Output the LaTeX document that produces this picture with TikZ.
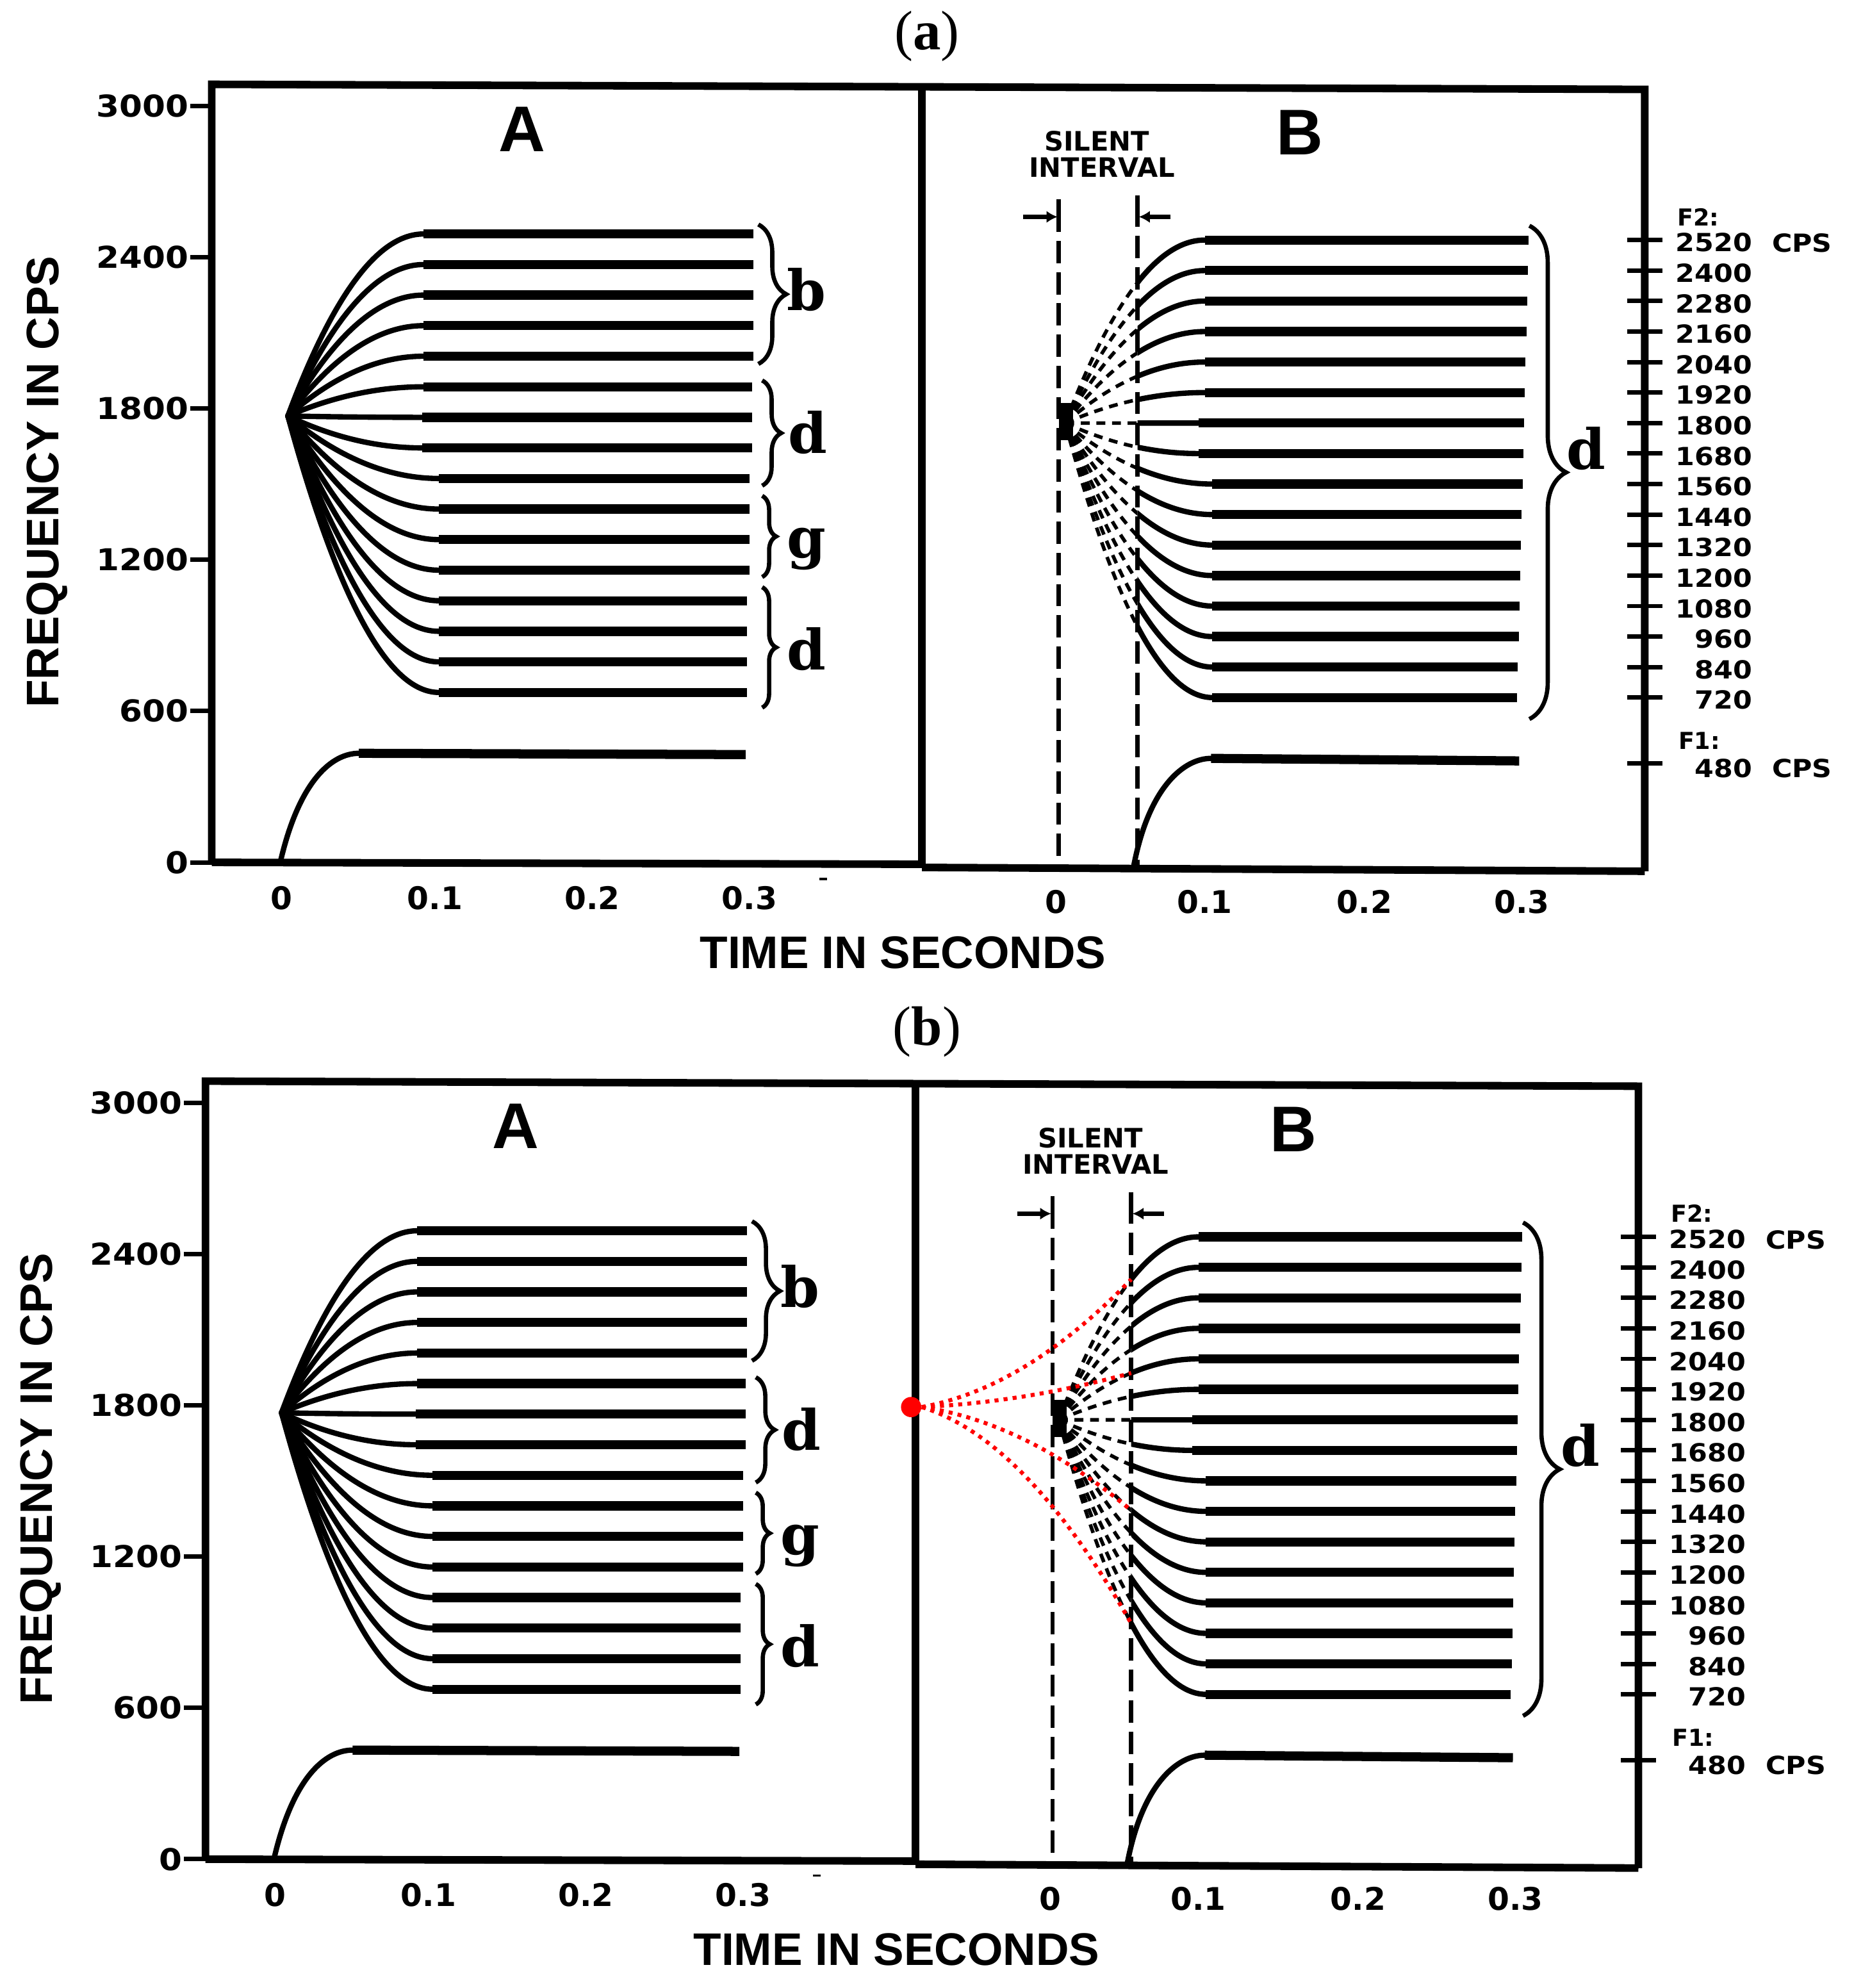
\documentclass[tikz,border=0pt]{standalone}
\usepackage{fontspec}
\setmainfont{Liberation Serif}
\newfontfamily\dvs{DejaVu Sans}
\newfontfamily\dvserif{DejaVu Serif}
\newfontfamily\lsans{Liberation Sans}
\usetikzlibrary{decorations.pathreplacing,arrows.meta}
\tikzset{
  boxline/.style={line width=3.4pt},
  flatline/.style={line width=4.1pt},
  curveline/.style={line width=2.4pt, line cap=round},
  fanline/.style={line width=1.6pt, dash pattern=on 4pt off 3pt},
  silentline/.style={line width=2pt, dash pattern=on 10pt off 4pt},
  tickline/.style={line width=2pt},
  arrowline/.style={line width=2pt, -{Latex[length=5pt,width=5.5pt]}},
  bracestyle/.style={decorate, decoration={brace, amplitude=#1}, line width=1.9pt},
  reddots/.style={red, line width=1.8pt, dash pattern=on 1.8pt off 2.3pt},
  ylab/.style={font=\dvs\bfseries\fontsize{13.5pt}{14pt}\selectfont, xscale=1.1, anchor=east, inner sep=0pt},
  tlab/.style={font=\dvs\bfseries\fontsize{14pt}{15pt}\selectfont, inner sep=0pt},
  rlab/.style={font=\dvs\bfseries\fontsize{11.2pt}{12pt}\selectfont, xscale=1.1, anchor=east, inner sep=0pt},
  rsmall/.style={font=\dvs\bfseries\fontsize{10.5pt}{11pt}\selectfont, inner sep=0pt},
  axtitle/.style={font=\lsans\bfseries\fontsize{20.5pt}{22pt}\selectfont, inner sep=0pt},
  bigl/.style={font=\lsans\bfseries\fontsize{29pt}{30pt}\selectfont, inner sep=0pt},
  silent/.style={font=\dvs\bfseries\fontsize{12pt}{13pt}\selectfont, inner sep=0pt},
  brlab/.style={font=\dvserif\bfseries\fontsize{25pt}{27pt}\selectfont, inner sep=0pt, anchor=base},
  ptitle/.style={font=\fontsize{25pt}{27pt}\selectfont, inner sep=0pt}
}
\newcommand{\mypanel}[1]{%
  % frame
  \draw[boxline] (167,680) -- (167,66.5) -- (1297,70.5) -- (1297,687);
  \draw[boxline] (167,680) -- (727,681.5);
  \draw[boxline] (727,684) -- (1297,687);
  \draw[boxline] (727,68) -- (727,684);
  % left frequency axis
  \foreach \f/\yy in {3000/83.5,2400/202.8,1800/322.1,1200/441.4,600/560.7,0/680}{
    \draw[tickline] (150,\yy) -- (167,\yy);
    \node[ylab] (#1yl\f) at (149,\yy) {\f};
  }
  \node[axtitle, rotate=90] (#1ftitle) at (37,380) {FREQUENCY IN CPS};
  % time axes
  \foreach \t/\xx/\k in {0/222/a,0.1/343/b,0.2/467/c,0.3/591/d}{
    \node[tlab] (#1ta\k) at (\xx,708) {\t};
  }
  \foreach \t/\xx/\k in {0/833/a,0.1/950/b,0.2/1076/c,0.3/1200/d}{
    \node[tlab] (#1tb\k) at (\xx,711) {\t};
  }
  \draw[line width=1pt] (646,693) -- (652,693);
  \node[axtitle] (#1ttitle) at (712,751) {TIME IN SECONDS};
  \node[bigl] (#1A) at (411.5,102) {A};
  \node[bigl] (#1B) at (1025,104.5) {B};
  % ---- panel A formants
  \foreach \i in {0,...,15}{
    \pgfmathsetmacro\yy{184.5+24.1*\i}
    \pgfmathsetmacro\xe{\i<6 ? 334 : (\i<8 ? 333 : 346)}
    \pgfmathsetmacro\xend{\i<5 ? 594 : (\i<8 ? 593 : (\i<12 ? 591 : 589))}
    \pgfmathsetmacro\cxa{227+(\xe-227)/3}
    \pgfmathsetmacro\cya{328+2/3*(\yy-328)}
    \pgfmathsetmacro\cxb{\xe-(\xe-227)/3}
    \draw[curveline] (227,328) .. controls (\cxa,\cya) and (\cxb,\yy) .. (\xe,\yy);
    \draw[flatline] (\xe,\yy) -- (\xend,\yy);
  }
  \draw[curveline] (221,680) .. controls (236,615) and (262,594) .. (283,594);
  \draw[flatline] (283,594) -- (588,595);
  % braces A
  \draw[bracestyle=0.44cm] (598,177) -- (598,287);
  \draw[bracestyle=0.30cm] (601,300) -- (601,383);
  \draw[bracestyle=0.22cm] (601,391) -- (601,455);
  \draw[bracestyle=0.22cm] (601,463) -- (601,558);
  \node[brlab] (#1lb) at (636,245) {b};
  \node[brlab] (#1ld1) at (637,357.5) {d};
  \node[brlab] (#1lg) at (636,440) {g};
  \node[brlab] (#1ld2) at (636,528) {d};
  % ---- panel B
  \node[silent] (#1sil1) at (865,111.5) {SILENT};
  \node[silent] (#1sil2) at (869,132) {INTERVAL};
  \draw[tickline] (835,157) -- (835,183);
  \draw[silentline] (835,190) -- (835,683);
  \draw[tickline] (897,154) -- (897,179);
  \draw[silentline] (897,186) -- (897,683);
  \coordinate (#1aL) at (807,171);
  \coordinate (#1aLe) at (834,171);
  \coordinate (#1aR) at (923,171);
  \coordinate (#1aRe) at (898,171);
  \draw[arrowline] (#1aL) -- (#1aLe);
  \draw[arrowline] (#1aR) -- (#1aRe);
  \foreach \i in {0,...,15}{
    \pgfmathsetmacro\yy{189.3+24.05*\i}
    \pgfmathsetmacro\xe{\i<6 ? 950 : (\i<8 ? 945 : 956)}
    \pgfmathsetmacro\xend{1205.4-0.6*\i}
    \pgfmathsetmacro\cxa{840+(\xe-840)/3}
    \pgfmathsetmacro\cya{333.6+2/3*(\yy-333.6)}
    \pgfmathsetmacro\cxb{\xe-(\xe-840)/3}
    \begin{scope}
      \clip (780,100) rectangle (897,700);
      \draw[fanline] (840,333.6) .. controls (\cxa,\cya) and (\cxb,\yy) .. (\xe,\yy);
    \end{scope}
    \begin{scope}
      \clip (897,100) rectangle (1000,700);
      \draw[curveline] (840,333.6) .. controls (\cxa,\cya) and (\cxb,\yy) .. (\xe,\yy);
    \end{scope}
    \draw[flatline] (\xe,\yy) -- (\xend,\yy);
    \pgfmathsetmacro\tq{57/(\xe-840)}
    \pgfmathsetmacro\ys{333.6+(\yy-333.6)*(1-(1-\tq)^2)}
    \coordinate (#1s\i) at (897,\ys);
  }
  \fill (835,318) rectangle (846,347);
  \draw[curveline] (894,683) .. controls (906,620) and (934,598) .. (955,598);
  \draw[flatline] (955,598) -- (1198,600);
  \draw[bracestyle=0.58cm] (1206,178) -- (1206,567);
  \node[brlab] (#1ldB) at (1251,370) {d};
  % right scale
  \foreach \f [count=\k from 0] in {2520,2400,2280,2160,2040,1920,1800,1680,1560,1440,1320,1200,1080,960,840,720}{
    \pgfmathsetmacro\yy{189.3+24.05*\k}
    \draw[tickline] (1283,\yy) -- (1311,\yy);
    \node[rlab] (#1r\f) at (1382,\yy+2) {\f};
  }
  \node[rlab, anchor=west] (#1cpsa) at (1397,191.5) {CPS};
  \node[rsmall] (#1ftwo) at (1339,171) {F2:};
  \draw[tickline] (1283,602) -- (1311,602);
  \node[rsmall] (#1fone) at (1340,584) {F1:};
  \node[rlab] (#1r480) at (1382,606) {480};
  \node[rlab, anchor=west] (#1cpsb) at (1397,606) {CPS};
}
\begin{document}
\begin{tikzpicture}[x=0.02cm, y=-0.02cm]
  \useasboundingbox (0,0) rectangle (1462,1567.6);
  \node[ptitle] (titlea) at (731,28.7) {(\textbf{a})};
  \node[ptitle] (titleb) at (731,813.5) {(\textbf{b})};
  \begin{scope}
    \mypanel{a}
  \end{scope}
  \begin{scope}[shift={(-5,786)}]
    \mypanel{b}
    \node[circle, fill=red, inner sep=0pt, minimum size=0.32cm] (reddot) at (723.5,323.5) {};
    \draw[reddots] (reddot.east) .. controls +(55.3,-10.1) and +(-55.3,57.1) .. (bs0);
    \draw[reddots] (reddot.east) .. controls +(55.3,-2.7) and +(-55.3,15.2) .. (bs4);
    \draw[reddots] (reddot.east) .. controls +(55.3,8.1) and +(-55.3,-46.1) .. (bs10);
    \draw[reddots] (reddot.east) .. controls +(55.3,17.1) and +(-55.3,-96.7) .. (bs15);
  \end{scope}
\end{tikzpicture}
\end{document}
